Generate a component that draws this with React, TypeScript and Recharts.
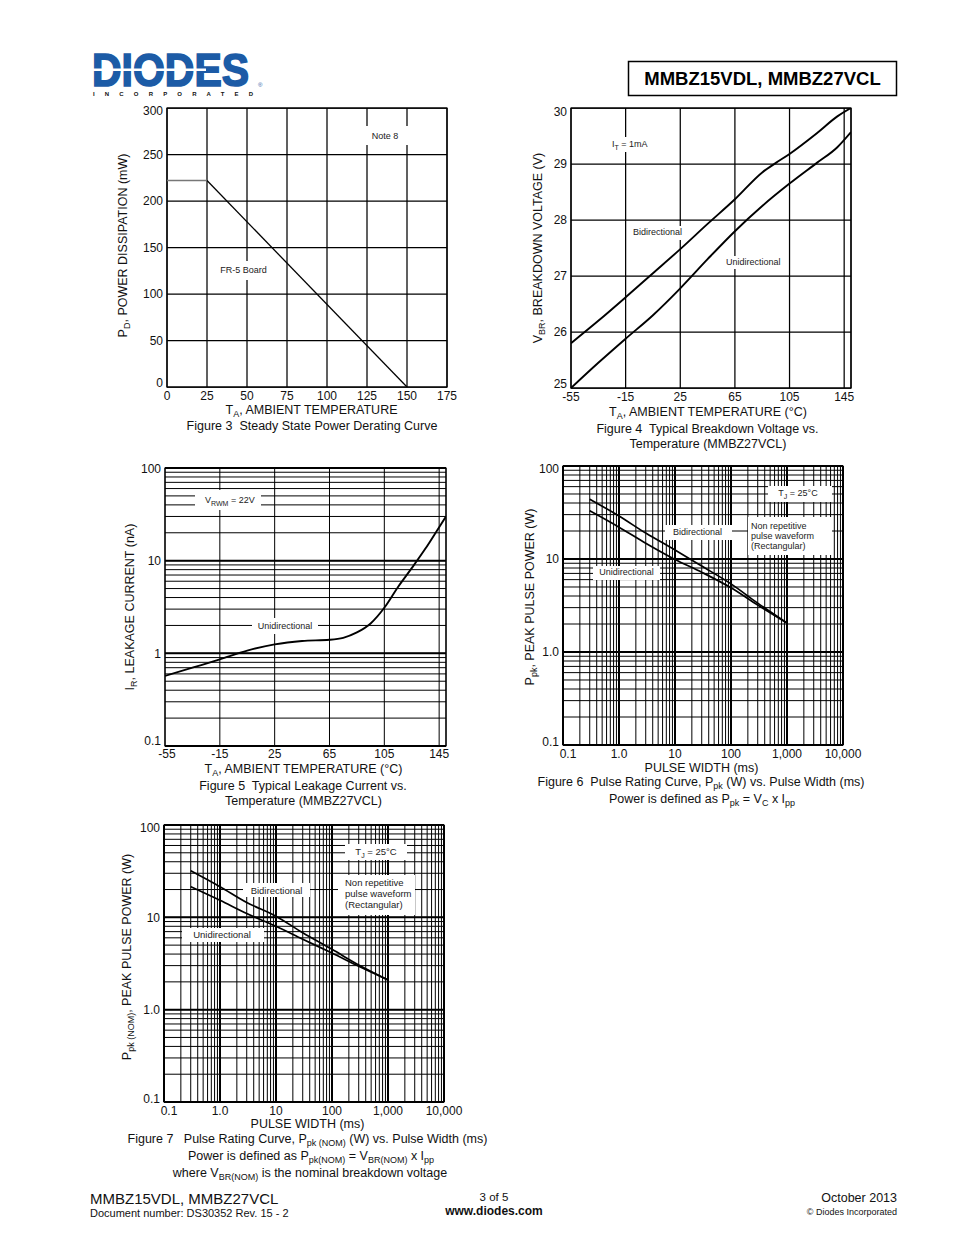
import React from 'react';
import { LineChart, Line, XAxis, YAxis, CartesianGrid, ReferenceLine, ReferenceArea } from 'recharts';

const FONT = '"Liberation Sans", Arial, Helvetica, sans-serif';
const INK = '#000';
const TXT = '#111';

// ---------- Figure 3 : power derating ----------
const fig3FlatTemp = [0, 25];
const fig3FlatPower = [222, 222];
const fig3DerateTemp = [25, 150];
const fig3DeratePower = [222, 0];
const fig3TempTicks = [0, 25, 50, 75, 100, 125, 150, 175];
const fig3PowerTicks = [0, 50, 100, 150, 200, 250, 300];

// ---------- Figure 4 : breakdown voltage vs temperature ----------
const fig4TempTicks = [-55, -15, 25, 65, 105, 145];
const fig4VoltTicks = [25, 26, 27, 28, 29, 30];
const fig4BidirTemp = [-55, -35, -15, 5, 25, 45, 65, 85, 95, 105, 125, 140, 150];
const fig4BidirVolt = [25.8, 26.2, 26.62, 27.05, 27.48, 27.93, 28.37, 28.85, 29.02, 29.18, 29.55, 29.85, 30.0];
const fig4UniTemp = [-55, -35, -15, 5, 25, 45, 65, 85, 105, 125, 140, 150];
const fig4UniVolt = [25.0, 25.45, 25.88, 26.3, 26.78, 27.3, 27.8, 28.25, 28.65, 29.02, 29.3, 29.57];

// ---------- Figure 5 : leakage current vs temperature ----------
const fig5TempTicks = [-55, -15, 25, 65, 105, 145];
const fig5Temp = [-55, -35, -15, 5, 25, 45, 65, 75, 85, 95, 105, 115, 125, 135, 145, 150];
const fig5Leak = [0.57, 0.7, 0.86, 1.07, 1.25, 1.36, 1.4, 1.47, 1.68, 2.1, 3.1, 5.2, 8.3, 13.5, 23, 30];
const fig5LeakLabels: Record<string, string> = { '0.1': '0.1', '1': '1', '10': '10', '100': '100' };

// ---------- shared log grids ----------
const logPowerGrid = [
  0.1, 0.2, 0.3, 0.4, 0.5, 0.6, 0.7, 0.8, 0.9,
  1, 2, 3, 4, 5, 6, 7, 8, 9,
  10, 20, 30, 40, 50, 60, 70, 80, 90, 100,
];
const logPowerDecades = [0.1, 1, 10, 100];
const pulseWidthGrid = [
  0.1, 0.2, 0.3, 0.4, 0.5, 0.6, 0.7, 0.8, 0.9,
  1, 2, 3, 4, 5, 6, 7, 8, 9,
  10, 20, 30, 40, 50, 60, 70, 80, 90,
  100, 200, 300, 400, 500, 600, 700, 800, 900,
  1000, 2000, 3000, 4000, 5000, 6000, 7000, 8000, 9000, 10000,
];
const pulseWidthDecades = [0.1, 1, 10, 100, 1000, 10000];
const pulseWidthLabels: Record<string, string> = { '0.1': '0.1', '1': '1.0', '10': '10', '100': '100', '1000': '1,000', '10000': '10,000' };
const pulsePowerLabels: Record<string, string> = { '0.1': '0.1', '1': '1.0', '10': '10', '100': '100' };

// ---------- Figure 6 : pulse rating ----------
const fig6Width = [0.3, 1, 3, 10, 30, 100, 300, 1000];
const fig6Bidir = [44, 29, 19, 12.5, 8.4, 5.4, 3.35, 2.05];
const fig6Uni = [33, 22, 14.8, 9.9, 7.2, 4.9, 3.2, 2.05];

// ---------- Figure 7 : pulse rating (nominal) ----------
const fig7Width = [0.3, 1, 3, 10, 30, 100, 300, 1000];
const fig7Bidir = [32, 21.5, 14.5, 10.3, 6.8, 4.5, 3.05, 2.1];
const fig7Uni = [21.5, 15.3, 11, 8.0, 5.8, 4.1, 2.95, 2.1];

const pairs = (xs: number[], ys: number[]) => xs.map((x, i) => ({ x, y: ys[i] }));

const LEFT_PAD = 60, TOP_PAD = 12, RIGHT_PAD = 22, BOTTOM_PAD = 30;
const Y_AXIS_W = 50, X_AXIS_H = 24;

const tickStyle = { fill: TXT, fontSize: 12, fontFamily: FONT };

// tick renderers: labels map (or null => plain value), edge nudges
function yTick(labels: Record<string, string> | null, min: number, max: number, topAdj: number, botAdj: number) {
  return (p: any) => {
    const v = p.payload.value;
    const label = labels ? labels[String(v)] ?? '' : String(v);
    if (!label) return <g />;
    const adj = v === min ? botAdj : v === max ? topAdj : 0;
    return (
      <text x={p.x} y={p.y + adj} dy="0.355em" textAnchor="end" {...tickStyle}>{label}</text>
    );
  };
}
function xTick(labels: Record<string, string> | null, min: number, leftAdj: number) {
  return (p: any) => {
    const v = p.payload.value;
    const label = labels ? labels[String(v)] ?? '' : String(v);
    if (!label) return <g />;
    const adj = v === min ? leftAdj : 0;
    return (
      <text x={p.x + adj} y={p.y} dy="0.71em" textAnchor="middle" {...tickStyle}>{label}</text>
    );
  };
}

function ChartBox({ plot, children }: { plot: number[]; children: React.ReactNode }) {
  const [L, T, W, H] = plot;
  return (
    <div style={{ position: 'absolute', left: L - LEFT_PAD, top: T - TOP_PAD }}>
      <LineChart
        width={W + LEFT_PAD + RIGHT_PAD}
        height={H + TOP_PAD + BOTTOM_PAD}
        margin={{ top: TOP_PAD, right: RIGHT_PAD, left: LEFT_PAD - Y_AXIS_W, bottom: BOTTOM_PAD - X_AXIS_H }}
      >
        {children}
      </LineChart>
    </div>
  );
}

const xCommon = {
  dataKey: 'x',
  type: 'number' as const,
  allowDataOverflow: true,
  interval: 0 as const,
  tickLine: false,
  axisLine: false,
  tickSize: 0,
  tickMargin: 4,
  height: X_AXIS_H,
};
const yCommon = {
  type: 'number' as const,
  allowDataOverflow: true,
  interval: 0 as const,
  tickLine: false,
  axisLine: false,
  tickSize: 0,
  tickMargin: 4,
  width: Y_AXIS_W,
};

function Fig3() {
  return (
    <ChartBox plot={[167, 108, 280, 279]}>
      <CartesianGrid stroke={INK} strokeWidth={1.25} />
      <XAxis {...xCommon} domain={[0, 175]} ticks={fig3TempTicks} tick={xTick(null, 0, 0)} />
      <YAxis {...yCommon} domain={[0, 300]} ticks={fig3PowerTicks} tick={yTick(null, 0, 300, 3, -4)} />
      <ReferenceArea x1={0} x2={175} y1={0} y2={300} fill="none" fillOpacity={0} stroke={INK} strokeWidth={1.25} />
      <Line data={pairs(fig3FlatTemp, fig3FlatPower)} dataKey="y" type="linear" stroke="#777" strokeWidth={1.6} dot={false} isAnimationActive={false} />
      <Line data={pairs(fig3DerateTemp, fig3DeratePower)} dataKey="y" type="linear" stroke={INK} strokeWidth={1.3} dot={false} isAnimationActive={false} />
    </ChartBox>
  );
}

function Fig4() {
  return (
    <ChartBox plot={[571, 108, 280, 280]}>
      <CartesianGrid stroke={INK} strokeWidth={1.25} />
      <XAxis {...xCommon} domain={[-55, 150]} ticks={fig4TempTicks} tick={xTick(null, -55, 0)} />
      <YAxis {...yCommon} domain={[25, 30]} ticks={fig4VoltTicks} tick={yTick(null, 25, 30, 4, -4)} />
      <ReferenceArea x1={-55} x2={150} y1={25} y2={30} fill="none" fillOpacity={0} stroke={INK} strokeWidth={1.25} />
      <Line data={pairs(fig4BidirTemp, fig4BidirVolt)} dataKey="y" type="monotone" stroke={INK} strokeWidth={1.9} dot={false} isAnimationActive={false} />
      <Line data={pairs(fig4UniTemp, fig4UniVolt)} dataKey="y" type="monotone" stroke={INK} strokeWidth={1.9} dot={false} isAnimationActive={false} />
    </ChartBox>
  );
}

function Fig5() {
  return (
    <ChartBox plot={[165, 468, 281, 278]}>
      <CartesianGrid stroke={INK} strokeWidth={1} />
      <XAxis {...xCommon} domain={[-55, 150]} ticks={fig5TempTicks} tickMargin={3} tick={xTick(null, -55, 2)} />
      <YAxis {...yCommon} scale="log" domain={[0.1, 100]} ticks={logPowerGrid} tick={yTick(fig5LeakLabels, 0.1, 100, 1, -5)} />
      {logPowerDecades.map((v) => (
        <ReferenceLine key={'d' + v} y={v} stroke={INK} strokeWidth={2} />
      ))}
      <ReferenceArea x1={-55} x2={150} y1={0.1} y2={100} fill="none" fillOpacity={0} stroke={INK} strokeWidth={1.2} />
      <Line data={pairs(fig5Temp, fig5Leak)} dataKey="y" type="monotone" stroke={INK} strokeWidth={1.9} dot={false} isAnimationActive={false} />
    </ChartBox>
  );
}

function PulseChart({ plot, bidir, uni, widths }: { plot: number[]; bidir: number[]; uni: number[]; widths: number[] }) {
  return (
    <ChartBox plot={plot}>
      <CartesianGrid stroke={INK} strokeWidth={1} />
      <XAxis {...xCommon} scale="log" domain={[0.1, 10000]} ticks={pulseWidthGrid} tick={xTick(pulseWidthLabels, 0.1, 5)} />
      <YAxis {...yCommon} scale="log" domain={[0.1, 100]} ticks={logPowerGrid} tick={yTick(pulsePowerLabels, 0.1, 100, 2.5, -3.5)} />
      {logPowerDecades.map((v) => (
        <ReferenceLine key={'h' + v} y={v} stroke={INK} strokeWidth={2} />
      ))}
      {pulseWidthDecades.map((v) => (
        <ReferenceLine key={'v' + v} x={v} stroke={INK} strokeWidth={2} />
      ))}
      <ReferenceArea x1={0.1} x2={10000} y1={0.1} y2={100} fill="none" fillOpacity={0} stroke={INK} strokeWidth={1.2} />
      <Line data={pairs(widths, bidir)} dataKey="y" type="monotone" stroke={INK} strokeWidth={1.7} dot={false} isAnimationActive={false} />
      <Line data={pairs(widths, uni)} dataKey="y" type="monotone" stroke={INK} strokeWidth={1.7} dot={false} isAnimationActive={false} />
    </ChartBox>
  );
}

const NB = '\u00A0';

function Overlay() {
  const base = { fontFamily: FONT, fill: TXT } as const;
  const ax = { ...base, fontSize: 12.5 } as const;
  const note = { ...base, fontSize: 9, fill: '#222' } as const;
  const note2 = { ...base, fontSize: 9.5, fill: '#222' } as const;
  const BLUE = '#1c5ba6';
  return (
    <svg width={954} height={1235} style={{ position: 'absolute', left: 0, top: 0, pointerEvents: 'none' }}>
      {/* Header */}
      <text transform="translate(92,85.5) scale(1,1.12)" x={0} y={0} fontFamily={FONT} fontWeight={900} fontSize={41} fill={BLUE} stroke={BLUE} strokeWidth={1.5}>DIODES</text>
      <rect x={92} y={68.5} width={114} height={2.5} fill="#fff" />
      <text x={258} y={87} fontFamily={FONT} fontSize={6} fill={BLUE}>®</text>
      <text x={93} y={95.5} fontFamily={FONT} fontSize={6} fontWeight={700} fill={TXT} textLength={160} lengthAdjust="spacing">INCORPORATED</text>
      <rect x={628.5} y={61.5} width={268} height={34} fill="none" stroke={INK} strokeWidth={1.5} />
      <text x={762.5} y={85} textAnchor="middle" fontFamily={FONT} fontWeight={700} fontSize={18.5} fill={INK}>MMBZ15VDL, MMBZ27VCL</text>

      {/* Figure 3 */}
      <rect x={364} y={126} width={44} height={19} fill="#fff" />
      <text {...note} x={385} y={139} textAnchor="middle">Note 8</text>
      <rect x={214} y={261} width={58} height={19} fill="#fff" />
      <text {...note} x={243.5} y={273} textAnchor="middle">FR-5 Board</text>
      <text {...ax} transform="translate(127,245.5) rotate(-90)" textAnchor="middle">P<tspan dy={3} fontSize={9}>D</tspan><tspan dy={-3}>, POWER DISSIPATION (mW)</tspan></text>
      <text {...ax} x={311.5} y={413.5} textAnchor="middle">T<tspan dy={3} fontSize={9}>A</tspan><tspan dy={-3}>, AMBIENT TEMPERATURE</tspan></text>
      <text {...ax} x={312} y={429.5} textAnchor="middle">{'Figure 3' + NB + ' Steady State Power Derating Curve'}</text>

      {/* Figure 4 */}
      <rect x={608} y={137} width={42} height={15} fill="#fff" />
      <text {...note} x={612} y={147}>I<tspan dy={2.5} fontSize={7}>T</tspan><tspan dy={-2.5}> = 1mA</tspan></text>
      <rect x={630} y={226} width={56} height={14} fill="#fff" />
      <text {...note} x={633} y={235}>Bidirectional</text>
      <rect x={723} y={256} width={62} height={13} fill="#fff" />
      <text {...note} x={726} y={265}>Unidirectional</text>
      <text {...ax} transform="translate(542,248) rotate(-90)" textAnchor="middle">V<tspan dy={3} fontSize={9}>BR</tspan><tspan dy={-3}>, BREAKDOWN VOLTAGE (V)</tspan></text>
      <text {...ax} x={708} y={415.5} textAnchor="middle">T<tspan dy={3} fontSize={9}>A</tspan><tspan dy={-3}>, AMBIENT TEMPERATURE (°C)</tspan></text>
      <text {...ax} x={707.5} y={432.5} textAnchor="middle">{'Figure 4' + NB + ' Typical Breakdown Voltage vs.'}</text>
      <text {...ax} x={708} y={447.5} textAnchor="middle">Temperature (MMBZ27VCL)</text>

      {/* Figure 5 */}
      <rect x={195} y={490} width={66} height={20} fill="#fff" />
      <text {...note} x={205} y={503}>V<tspan dy={2.5} fontSize={7}>RWM</tspan><tspan dy={-2.5}> = 22V</tspan></text>
      <rect x={252} y={618} width={66} height={16} fill="#fff" />
      <text {...note} x={285} y={629} textAnchor="middle">Unidirectional</text>
      <text {...ax} transform="translate(134,607) rotate(-90)" textAnchor="middle">I<tspan dy={3} fontSize={9}>R</tspan><tspan dy={-3}>, LEAKAGE CURRENT (nA)</tspan></text>
      <text {...ax} x={303.5} y={772.5} textAnchor="middle">T<tspan dy={3} fontSize={9}>A</tspan><tspan dy={-3}>, AMBIENT TEMPERATURE (°C)</tspan></text>
      <text {...ax} x={303} y={789.5} textAnchor="middle">{'Figure 5' + NB + ' Typical Leakage Current vs.'}</text>
      <text {...ax} x={303.5} y={804.5} textAnchor="middle">Temperature (MMBZ27VCL)</text>

      {/* Figure 6 */}
      <rect x={768} y={486} width={64} height={16} fill="#fff" />
      <text {...note} x={798} y={496} textAnchor="middle">T<tspan dy={2.5} fontSize={7}>J</tspan><tspan dy={-2.5}> = 25°C</tspan></text>
      <rect x={665} y={525} width={67} height={15} fill="#fff" />
      <text {...note} x={697.5} y={535} textAnchor="middle">Bidirectional</text>
      <rect x={748} y={517} width={84} height={38} fill="#fff" />
      <text {...note} x={751} y={529}>Non repetitive</text>
      <text {...note} x={751} y={539}>pulse waveform</text>
      <text {...note} x={751} y={549}>(Rectangular)</text>
      <rect x={593} y={566} width={67} height={14} fill="#fff" />
      <text {...note} x={626.5} y={575} textAnchor="middle">Unidirectional</text>
      <text {...ax} transform="translate(534,597) rotate(-90)" textAnchor="middle">P<tspan dy={3} fontSize={9}>pk</tspan><tspan dy={-3}>, PEAK PULSE POWER (W)</tspan></text>
      <text {...ax} x={701.5} y={771.5} textAnchor="middle">PULSE WIDTH (ms)</text>
      <text {...ax} x={701} y={785.5} textAnchor="middle">{'Figure 6' + NB + ' Pulse Rating Curve, P'}<tspan dy={3} fontSize={9}>pk</tspan><tspan dy={-3}> (W) vs. Pulse Width (ms)</tspan></text>
      <text {...ax} x={702} y={802.5} textAnchor="middle">Power is defined as P<tspan dy={3} fontSize={9}>pk</tspan><tspan dy={-3}> = V</tspan><tspan dy={3} fontSize={9}>C</tspan><tspan dy={-3}> x I</tspan><tspan dy={3} fontSize={9}>pp</tspan></text>

      {/* Figure 7 */}
      <rect x={345} y={844} width={62} height={16} fill="#fff" />
      <text {...note2} x={376} y={855} textAnchor="middle">T<tspan dy={2.5} fontSize={7}>J</tspan><tspan dy={-2.5}> = 25°C</tspan></text>
      <rect x={243} y={883} width={67} height={14} fill="#fff" />
      <text {...note2} x={276.5} y={894} textAnchor="middle">Bidirectional</text>
      <rect x={338} y={875} width={77} height={40} fill="#fff" />
      <text {...note2} x={345} y={886}>Non repetitive</text>
      <text {...note2} x={345} y={897}>pulse waveform</text>
      <text {...note2} x={345} y={908}>(Rectangular)</text>
      <rect x={182} y={928} width={82} height={14} fill="#fff" />
      <text {...note2} x={222} y={937.5} textAnchor="middle">Unidirectional</text>
      <text {...ax} transform="translate(131,957) rotate(-90)" textAnchor="middle">P<tspan dy={3} fontSize={9}>pk (NOM)</tspan><tspan dy={-3}>, PEAK PULSE POWER (W)</tspan></text>
      <text {...ax} x={307.5} y={1127.5} textAnchor="middle">PULSE WIDTH (ms)</text>
      <text {...ax} x={307.5} y={1142.5} textAnchor="middle">{'Figure 7' + NB + NB + ' Pulse Rating Curve, P'}<tspan dy={3} fontSize={9}>pk (NOM)</tspan><tspan dy={-3}> (W) vs. Pulse Width (ms)</tspan></text>
      <text {...ax} x={311} y={1159.5} textAnchor="middle">Power is defined as P<tspan dy={3} fontSize={9}>pk(NOM)</tspan><tspan dy={-3}> = V</tspan><tspan dy={3} fontSize={9}>BR(NOM)</tspan><tspan dy={-3}> x I</tspan><tspan dy={3} fontSize={9}>pp</tspan></text>
      <text {...ax} x={310} y={1176.5} textAnchor="middle">where V<tspan dy={3} fontSize={9}>BR(NOM)</tspan><tspan dy={-3}> is the nominal breakdown voltage</tspan></text>

      {/* Footer */}
      <text {...base} x={90} y={1203.5} fontSize={15}>MMBZ15VDL, MMBZ27VCL</text>
      <text {...base} x={90} y={1217} fontSize={11}>Document number: DS30352 Rev. 15 - 2</text>
      <text {...base} x={494} y={1200.5} fontSize={11.5} textAnchor="middle">3 of 5</text>
      <text {...base} x={494} y={1214.5} fontSize={12} fontWeight={700} textAnchor="middle">www.diodes.com</text>
      <text {...base} x={897} y={1201.5} fontSize={12.5} textAnchor="end">October 2013</text>
      <text {...base} x={897} y={1214.5} fontSize={9} textAnchor="end">© Diodes Incorporated</text>
    </svg>
  );
}

export default function App() {
  return (
    <div style={{ position: 'absolute', left: 0, top: 0, width: 954, height: 1235, background: '#fff', fontFamily: FONT, overflow: 'hidden' }}>
      <Fig3 />
      <Fig4 />
      <Fig5 />
      <PulseChart plot={[563, 466, 280, 279]} bidir={fig6Bidir} uni={fig6Uni} widths={fig6Width} />
      <PulseChart plot={[164, 825, 280, 277]} bidir={fig7Bidir} uni={fig7Uni} widths={fig7Width} />
      <Overlay />
    </div>
  );
}
